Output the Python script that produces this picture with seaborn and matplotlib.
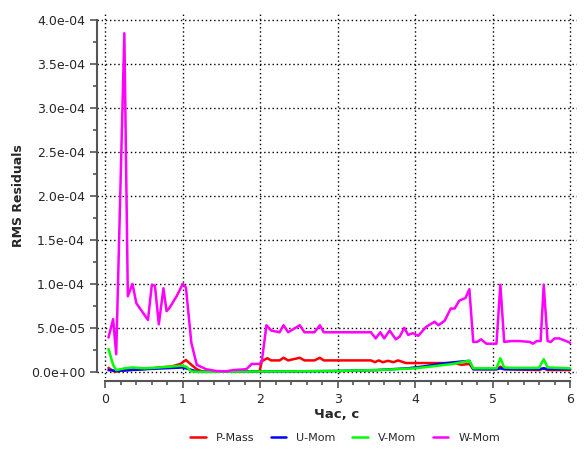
import numpy as np
import pandas as pd
import matplotlib
matplotlib.use("Agg")
import matplotlib.pyplot as plt
from matplotlib.ticker import MultipleLocator, FuncFormatter
import seaborn as sns

# time points and residuals (units of 1e-5)
t_p = [0.04, 0.12, 0.25, 0.50, 0.70, 0.85, 0.97, 1.04, 1.11, 1.18, 1.25, 1.99,
       2.02, 2.09, 2.14, 2.25, 2.30, 2.36, 2.51, 2.57, 2.70, 2.77, 2.82, 3.43,
       3.48, 3.53, 3.58, 3.65, 3.72, 3.78, 3.88, 4.50, 4.60, 4.70, 4.75, 5.05,
       5.10, 5.15, 5.60, 5.66, 5.71, 6.00]
p_mass = [0.45, 0.0, 0.2, 0.3, 0.5, 0.6, 0.9, 1.35, 0.8, 0.3, 0.05, 0.05,
          1.2, 1.55, 1.3, 1.3, 1.6, 1.3, 1.6, 1.3, 1.3, 1.6, 1.3, 1.3,
          1.1, 1.3, 1.1, 1.25, 1.1, 1.3, 1.0, 1.0, 0.8, 0.9, 0.3, 0.3,
          0.6, 0.3, 0.2, 0.4, 0.2, 0.2]

t_u = [0.04, 0.15, 0.50, 1.00, 1.20, 2.30, 3.00, 3.50, 3.90, 4.10, 4.31, 4.57,
       4.70, 4.75, 5.05, 5.10, 5.15, 5.60, 5.66, 5.71, 6.00]
u_mom = [0.2, 0.1, 0.3, 0.5, 0.0, 0.05, 0.1, 0.2, 0.4, 0.6, 0.9, 1.15,
         1.25, 0.3, 0.3, 0.4, 0.3, 0.3, 0.4, 0.3, 0.3]

t_v = [0.04, 0.10, 0.14, 0.25, 0.35, 0.50, 0.70, 0.85, 0.99, 1.05, 1.11, 1.20,
       2.30, 3.00, 3.50, 4.00, 4.20, 4.49, 4.66, 4.70, 4.75, 5.05, 5.10, 5.15,
       5.25, 5.60, 5.66, 5.71, 6.00]
v_mom = [2.6, 0.8, 0.2, 0.4, 0.5, 0.4, 0.5, 0.6, 0.7, 0.55, 0.05, 0.0,
         0.05, 0.1, 0.2, 0.4, 0.6, 0.9, 1.2, 1.25, 0.4, 0.4, 1.55, 0.5,
         0.45, 0.45, 1.45, 0.5, 0.4]

t_w = [0.04, 0.10, 0.14, 0.245, 0.29, 0.35, 0.40, 0.55, 0.60, 0.64, 0.69, 0.75,
       0.79, 0.83, 0.92, 1.00, 1.04, 1.11, 1.18, 1.30, 1.43, 1.55, 1.65, 1.82,
       1.89, 1.99, 2.02, 2.08, 2.14, 2.25, 2.30, 2.36, 2.51, 2.57, 2.70, 2.77,
       2.82, 3.24, 3.43, 3.49, 3.55, 3.60, 3.67, 3.75, 3.80, 3.86, 3.91, 3.97,
       4.04, 4.14, 4.25, 4.30, 4.38, 4.46, 4.51, 4.57, 4.65, 4.70, 4.75, 4.80,
       4.85, 4.92, 5.05, 5.10, 5.15, 5.24, 5.35, 5.48, 5.52, 5.57, 5.62, 5.66,
       5.71, 5.75, 5.80, 5.86, 5.95, 6.00]
w_mom = [3.9, 6.0, 2.0, 38.5, 8.6, 10.0, 7.8, 5.9, 9.9, 9.8, 5.4, 9.5,
         6.9, 7.3, 8.6, 10.0, 9.6, 3.3, 0.8, 0.3, 0.1, 0.05, 0.2, 0.3,
         0.9, 0.9, 1.2, 5.3, 4.7, 4.5, 5.3, 4.5, 5.3, 4.5, 4.5, 5.3,
         4.5, 4.5, 4.5, 3.8, 4.5, 3.8, 4.7, 3.7, 4.0, 5.0, 4.2, 4.4,
         4.1, 5.1, 5.7, 5.3, 5.8, 7.2, 7.2, 8.1, 8.4, 9.4, 3.4, 3.4,
         3.7, 3.2, 3.2, 9.9, 3.4, 3.5, 3.5, 3.4, 3.2, 3.5, 3.5, 9.9,
         3.5, 3.4, 3.8, 3.8, 3.5, 3.3]

names = ["P-Mass", "U-Mom", "V-Mom", "W-Mom"]
colors = ["#ff0000", "#0000ff", "#00ff00", "#ff00ff"]

frames = []
for name, t, r in zip(names, [t_p, t_u, t_v, t_w], [p_mass, u_mom, v_mom, w_mom]):
    frames.append(pd.DataFrame({"t": t, "rms": np.array(r) * 1e-5, "series": name}))
df = pd.concat(frames, ignore_index=True)

sns.set_style("ticks")
plt.rcParams["font.family"] = ["DejaVu Sans"]

fig = plt.figure(figsize=(5.87, 4.5), dpi=100)
ax = fig.add_axes([0.165, 0.16, 0.818, 0.811])

sns.lineplot(data=df, x="t", y="rms", hue="series", hue_order=names,
             palette=colors, sort=False, estimator=None, linewidth=1.8, ax=ax)

ax.set_xlim(-0.11, 6.09)
ax.set_ylim(-0.07e-4, 4.08e-4)
ax.xaxis.set_major_locator(MultipleLocator(1))
ax.xaxis.set_minor_locator(MultipleLocator(0.2))
ax.yaxis.set_major_locator(MultipleLocator(5e-5))
ax.yaxis.set_minor_locator(MultipleLocator(2.5e-5))
ax.yaxis.set_major_formatter(FuncFormatter(lambda v, p: "%.1e" % v))

ax.grid(True, which="major", color="black", linestyle=(0, (1, 2)), linewidth=1)
ax.set_axisbelow(True)

for s in ["top", "right"]:
    ax.spines[s].set_visible(False)
ax.spines["left"].set_bounds(0, 4e-4)
ax.spines["bottom"].set_bounds(0, 6)
ax.spines["bottom"].set_position(("outward", 2))
for s in ["left", "bottom"]:
    ax.spines[s].set_color("#555555")
    ax.spines[s].set_linewidth(1.5)
ax.tick_params(which="major", length=5, width=1.2, color="#555555", labelsize=9)
ax.tick_params(which="minor", length=3, width=1.2, color="#555555")

ax.set_xlabel("Час, с", fontsize=9.5, fontweight="bold", labelpad=2)
ax.set_ylabel("RMS Residuals", fontsize=9, fontweight="bold")

ax.get_legend().remove()
handles, labels = ax.get_legend_handles_labels()
fig.legend(handles, labels, loc="center", bbox_to_anchor=(345 / 587, 1 - 438 / 450),
           ncol=4, frameon=False, fontsize=8, handlelength=1.4,
           handletextpad=0.9, columnspacing=1.5)

fig.savefig("out.png", dpi=100)
